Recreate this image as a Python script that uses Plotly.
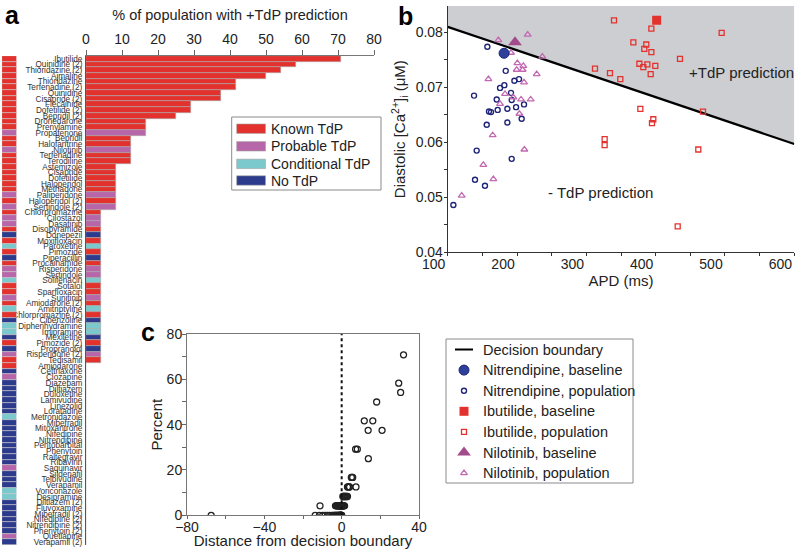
import plotly.graph_objects as go

W, H = 800, 549
FONT = "Liberation Sans, Arial, sans-serif"

# ---------------- Panel a data ----------------
drugs = ["Ibutilide", "Quinidine (2)", "Thioridazine (2)", "Ajmaline", "Thioridazine",
         "Terfenadine (2)", "Quinidine", "Cisapride (2)", "Flecainide", "Dofetilide (2)",
         "Bepridil (2)", "Dronedarone", "Prenylamine", "Propafenone", "Bepridil",
         "Halofantrine", "Nilotinib", "Terfenadine", "Terodiline", "Astemizole",
         "Cisapride", "Dofetilide", "Haloperidol", "Methadone", "Paliperidone",
         "Haloperidol (2)", "Sertindole (2)", "Chlorpromazine", "Cilostazol", "Dasatinib",
         "Disopyramide", "Donepezil", "Moxifloxacin", "Paroxetine", "Pimozide",
         "Piperacillin", "Procainamide", "Risperidone", "Sertindole", "Solifenacin",
         "Sotalol", "Sparfloxacin", "Sunitinib", "Amiodarone (2)", "Amitriptyline",
         "Chlorpromazine (2)", "Cibenzoline", "Diphenhydramine", "Imipramine", "Mexiletine",
         "Pimozide (2)", "Propranolol", "Risperidone (2)", "Tedisamil", "Amiodarone",
         "Ceftriaxone", "Clozapine", "Diazepam", "Diltiazem", "Duloxetine",
         "Lamivudine", "Linezolid", "Loratadine", "Metronidazole", "Mibefradil",
         "Mitoxantrone", "Nifedipine", "Nitrendipine", "Pentobarbital", "Phenytoin",
         "Raltegravir", "Ribavirin", "Saquinavir", "Sildenafil", "Telbivudine",
         "Verapamil", "Voriconazole", "Desipramine", "Diltiazem (2)", "Fluvoxamine",
         "Mibefradil (2)", "Nifedipine (2)", "Nitrendipine (2)", "Phenytoin (2)", "Quetiapine",
         "Verapamil (2)"]

pct_tdp = [70.8, 58.3, 54.2, 50.0, 41.7, 41.7, 37.5, 37.5, 29.2, 29.2,
           25.0, 16.7, 16.7, 16.7, 12.5, 12.5, 12.5, 12.5, 12.5, 8.3,
           8.3, 8.3, 8.3, 8.3, 8.3, 8.3, 8.3, 4.2, 4.2, 4.2,
           4.2, 4.2, 4.2, 4.2, 4.2, 4.2, 4.2, 4.2, 4.2, 4.2,
           4.2, 4.2, 4.2, 4.2, 4.2, 4.2, 4.2, 4.2, 4.2, 4.2,
           4.2, 4.2, 4.2, 4.2, 0, 0, 0, 0, 0, 0,
           0, 0, 0, 0, 0, 0, 0, 0, 0, 0,
           0, 0, 0, 0, 0, 0, 0, 0, 0, 0,
           0, 0, 0, 0, 0, 0]

K, P, C, N = "Known TdP", "Probable TdP", "Conditional TdP", "No TdP"
risk = [K, K, K, K, K, K, K, K, K, K,
        K, K, K, P, K, K, P, K, K, K,
        K, K, K, K, P, K, P, K, P, P,
        K, N, K, C, K, N, K, P, P, C,
        K, K, P, K, C, K, N, C, C, N,
        K, N, P, K, K, N, P, N, N, N,
        N, N, N, C, N, N, N, N, N, N,
        N, N, P, N, N, N, C, C, N, N,
        N, N, N, N, P, N]

risk_categories = [K, P, C, N]
risk_colors = {K: "#E3322D", P: "#B866AA", C: "#7CC9CD", N: "#2D3B8D"}

# ---------------- Panel b data ----------------
nit_pop_apd = [157.2, 183.7, 175.5, 181.7, 196.2, 202.9, 138.0, 170.7, 192.3, 191.3,
               198.6, 210.1, 172.1, 186.1, 159.6, 162.5, 156.3, 186.1, 206.7, 141.8,
               192.3, 139.4, 153.8, 108.2]
nit_pop_ca = [0.0774, 0.0730, 0.0699, 0.0704, 0.0712, 0.0715, 0.0685, 0.0678, 0.0677, 0.0690,
              0.0664, 0.0669, 0.0659, 0.0661, 0.0656, 0.0655, 0.0632, 0.0636, 0.0643, 0.0585,
              0.0570, 0.0532, 0.0521, 0.0486]
nil_pop_apd = [173.1, 215.4, 191.3, 236.5, 200.5, 209.1, 199.5, 208.1, 228.4, 158.7,
               210.1, 182.7, 194.7, 205.8, 219.7, 175.5, 203.4, 164.9, 210.6, 151.4,
               165.9, 120.2]
nil_pop_ca = [0.0786, 0.0796, 0.0763, 0.0756, 0.0744, 0.0739, 0.0732, 0.0732, 0.0724, 0.0715,
              0.0709, 0.0688, 0.0682, 0.0678, 0.0678, 0.0670, 0.0652, 0.0613, 0.0587, 0.0559,
              0.0533, 0.0503]
ibu_pop_apd = [339.9, 393.8, 495.2, 367.8, 386.5, 383.6, 393.8, 376.5, 388.0, 382.2,
               399.5, 312.5, 334.1, 392.8, 349.0, 435.1, 377.9, 468.3, 396.6, 394.7,
               326.4, 326.4, 461.5, 431.8]
ibu_pop_ca = [0.0822, 0.0807, 0.0799, 0.0782, 0.0778, 0.0770, 0.0764, 0.0743, 0.0742, 0.0737,
              0.0739, 0.0734, 0.0726, 0.0724, 0.0715, 0.0752, 0.0661, 0.0656, 0.0642, 0.0635,
              0.0606, 0.0595, 0.0587, 0.0447]
nit_base = (181.3, 0.0762)
ibu_base = (401.4, 0.0822)
nil_base = (197.1, 0.0782)
boundary_apd = [100, 600]
boundary_ca = [0.0810, 0.0597]
b_xrange = [100, 600]
b_yrange = [0.04, 0.0848]

# ---------------- Panel c data ----------------
distance = [32.0, 29.5, 30.5, 18.1, 11.7, 16.1, 13.7, 20.9, 7.2, 8.1,
            13.8, 5.0, 5.4, 5.7, 3.0, 3.4, 3.8, 7.4, 4.1,
            0.6, 1.0, 1.4, 1.8, 2.2, 2.6, 3.0, 1.2,
            -11.2, -3.2, -2.8, -2.5, -2.2, -1.9, -1.6, -1.4, -1.2, -1.0,
            -0.8, -0.6, -0.4, -0.2, 0.0, 0.2, 0.4, 0.6, 0.8, 1.0,
            1.2, 1.5, -1.7, -0.9, -0.5, 0.3, 0.7,
            -67.5, -13.7, -11.5, -9.8, -8.5, -7.3, -6.2, -5.0, -4.4, -3.9,
            -3.5, -3.1, -2.8, -2.5, -2.2, -1.9, -1.7, -1.5, -1.3, -1.1,
            -0.9, -0.8, -0.7, -0.6, -0.5, -0.4, -0.3, -0.2, -0.15, -0.1,
            -0.05, 0.0]

# colours
NAVY = "#1F2478"
NAVY_FILL = "#2E409A"
RED = "#E3322D"
PURP = "#C26AB1"
PURP_DARK = "#A34A8A"
GREY_REGION = "#CDCED2"


def px(x):
    return x / W


def py(y):
    return 1 - y / H


fig = go.Figure()

# Panel a bars
fig.add_trace(go.Bar(
    x=pct_tdp, y=drugs, orientation="h", xaxis="x", yaxis="y",
    marker=dict(color=[risk_colors[r] for r in risk], line=dict(color="#A8A8A8", width=0.6)),
    showlegend=False, hoverinfo="x+y"))
# Panel a category strip
fig.add_trace(go.Bar(
    x=[1] * len(drugs), y=drugs, orientation="h", xaxis="x2", yaxis="y",
    marker=dict(color=[risk_colors[r] for r in risk], line=dict(color="#C8C8C8", width=0.6)),
    showlegend=False, hoverinfo="y"))

# Panel b shaded +TdP region and boundary
fig.add_trace(go.Scatter(
    x=[boundary_apd[0], boundary_apd[1], b_xrange[1], b_xrange[0]],
    y=[boundary_ca[0], boundary_ca[1], b_yrange[1], b_yrange[1]],
    fill="toself", fillcolor=GREY_REGION, line=dict(width=0), mode="lines",
    xaxis="x3", yaxis="y3", showlegend=False, hoverinfo="skip"))
fig.add_trace(go.Scatter(x=boundary_apd, y=boundary_ca, mode="lines",
                         line=dict(color="black", width=2.2), xaxis="x3", yaxis="y3",
                         showlegend=False))
fig.add_trace(go.Scatter(x=nit_pop_apd, y=nit_pop_ca, mode="markers", xaxis="x3", yaxis="y3",
                         marker=dict(symbol="circle-open", size=5, color=NAVY, line=dict(width=1.4)),
                         showlegend=False))
fig.add_trace(go.Scatter(x=nil_pop_apd, y=nil_pop_ca, mode="markers", xaxis="x3", yaxis="y3",
                         marker=dict(symbol="triangle-up-open", size=6, color=PURP, line=dict(width=1.3)),
                         showlegend=False))
fig.add_trace(go.Scatter(x=ibu_pop_apd, y=ibu_pop_ca, mode="markers", xaxis="x3", yaxis="y3",
                         marker=dict(symbol="square-open", size=5, color=RED, line=dict(width=1.3)),
                         showlegend=False))
fig.add_trace(go.Scatter(x=[nit_base[0]], y=[nit_base[1]], mode="markers", xaxis="x3", yaxis="y3",
                         marker=dict(symbol="circle", size=10, color=NAVY_FILL, line=dict(color=NAVY, width=1)),
                         showlegend=False))
fig.add_trace(go.Scatter(x=[ibu_base[0]], y=[ibu_base[1]], mode="markers", xaxis="x3", yaxis="y3",
                         marker=dict(symbol="square", size=9, color=RED, line=dict(width=0)),
                         showlegend=False))
fig.add_trace(go.Scatter(x=[nil_base[0]], y=[nil_base[1]], mode="markers", xaxis="x3", yaxis="y3",
                         marker=dict(symbol="triangle-up", size=12, color=PURP_DARK, line=dict(width=0)),
                         showlegend=False))

# Panel c scatter
fig.add_trace(go.Scatter(x=distance, y=pct_tdp, mode="markers", xaxis="x4", yaxis="y4",
                         marker=dict(symbol="circle-open", size=6, color="#222", line=dict(width=1.3)),
                         showlegend=False))

# ----- legend keys (overlay axis in pixel space) -----
LEG_X = 464
leg_y = [349.5, 370.1, 390.7, 411.3, 431.9, 452.5, 473.1]
leg_labels = ["Decision boundary", "Nitrendipine, baseline", "Nitrendipine, population",
              "Ibutilide, baseline", "Ibutilide, population", "Nilotinib, baseline",
              "Nilotinib, population"]
fig.add_trace(go.Scatter(x=[LEG_X - 9, LEG_X + 9], y=[leg_y[0]] * 2, mode="lines",
                         line=dict(color="black", width=2), xaxis="x5", yaxis="y5",
                         showlegend=False, hoverinfo="skip"))
key_styles = [
    dict(symbol="circle", size=10, color=NAVY_FILL, line=dict(color=NAVY, width=1)),
    dict(symbol="circle-open", size=5, color=NAVY, line=dict(width=1.4)),
    dict(symbol="square", size=9, color=RED, line=dict(width=0)),
    dict(symbol="square-open", size=5, color=RED, line=dict(width=1.3)),
    dict(symbol="triangle-up", size=12, color=PURP_DARK, line=dict(width=0)),
    dict(symbol="triangle-up-open", size=6, color=PURP, line=dict(width=1.3)),
]
for yy, st in zip(leg_y[1:], key_styles):
    fig.add_trace(go.Scatter(x=[LEG_X], y=[yy], mode="markers", marker=st, xaxis="x5", yaxis="y5",
                             showlegend=False, hoverinfo="skip"))

shapes = []
annotations = []

# legend c box + text
shapes.append(dict(type="rect", xref="paper", yref="paper", x0=px(446), x1=px(633), y0=py(339), y1=py(483),
                   line=dict(color="#8A8A8A", width=1)))
for yy, lab in zip(leg_y, leg_labels):
    annotations.append(dict(xref="paper", yref="paper", x=px(481), y=py(yy), text=lab, showarrow=False,
                            xanchor="left", yanchor="middle", font=dict(size=14.5, color="#222")))

# legend a box + swatches + text
shapes.append(dict(type="rect", xref="paper", yref="paper", x0=px(231.7), x1=px(381), y0=py(117), y1=py(190),
                   line=dict(color="#8A8A8A", width=1)))
leg_a_y = [128.7, 146.3, 163.9, 180.5]
for yy, cat in zip(leg_a_y, risk_categories):
    shapes.append(dict(type="rect", xref="paper", yref="paper", x0=px(236.7), x1=px(265.5),
                       y0=py(yy + 4.7), y1=py(yy - 4.7), fillcolor=risk_colors[cat],
                       line=dict(color="#A0A0A0", width=0.6)))
    annotations.append(dict(xref="paper", yref="paper", x=px(268.5), y=py(yy), text=cat, showarrow=False,
                            xanchor="left", yanchor="middle", font=dict(size=14, color="#222")))

# dotted zero line in panel c
shapes.append(dict(type="line", xref="x4", yref="y4", x0=0, x1=0, y0=0, y1=80,
                   line=dict(color="#111", width=2, dash="dot")))

# panel b text
annotations.append(dict(xref="x3", yref="y3", x=524, y=0.07265, text="+TdP prediction", showarrow=False,
                        xanchor="center", yanchor="middle", font=dict(size=15, color="#222")))
annotations.append(dict(xref="x3", yref="y3", x=320, y=0.0508, text="- TdP prediction", showarrow=False,
                        xanchor="center", yanchor="middle", font=dict(size=15, color="#222")))

# panel letters
for lx, ly, t in [(12, 15, "a"), (406, 16, "b"), (148, 332, "c")]:
    annotations.append(dict(xref="paper", yref="paper", x=px(lx), y=py(ly), text=f"<b>{t}</b>",
                            xanchor="center", yanchor="middle",
                            showarrow=False, font=dict(size=25, color="black")))

tickfont = dict(size=14, color="#222")
titlefont = dict(size=15, color="#222")

fig.update_layout(
    width=W, height=H, margin=dict(l=0, r=0, t=0, b=0, autoexpand=False),
    paper_bgcolor="white", plot_bgcolor="rgba(0,0,0,0)",
    font=dict(family=FONT, color="#222"),
    bargap=0, showlegend=False,
    shapes=shapes, annotations=annotations,
    xaxis=dict(domain=[px(86), px(374)], range=[0, 80], side="top", anchor="y", automargin=False,
               tickvals=[0, 10, 20, 30, 40, 50, 60, 70, 80], ticks="outside", ticklen=5,
               tickcolor="#666", showline=True, linecolor="#777", showgrid=False, zeroline=False,
               tickfont=tickfont,
               title=dict(text="% of population with +TdP prediction", font=dict(size=14.5, color="#222"),
                          standoff=7)),
    yaxis=dict(domain=[py(545), py(56)], anchor="x", type="category", categoryorder="array",
               categoryarray=drugs, autorange="reversed", showline=True, linecolor="#555",
               tickmode="array", tickvals=drugs, ticktext=drugs, automargin=False,
               ticks="", showgrid=False, zeroline=False, tickfont=dict(size=8.2, color="#333"),
               ticklabelstandoff=1),
    xaxis2=dict(domain=[px(2), px(16.5)], range=[0, 1], anchor="y", visible=False, automargin=False),
    xaxis3=dict(domain=[px(447.7), px(794.3)], range=b_xrange, anchor="y3", automargin=False,
                tickvals=[100, 200, 300, 400, 500, 600], ticks="outside", ticklen=3,
                ticklabelshift=-14, ticklabelstandoff=-4,
                minor=dict(dtick=50, tick0=100, ticks="outside", ticklen=3, tickcolor="#333"),
                showline=True, linecolor="#333", tickcolor="#333", showgrid=False, zeroline=False,
                tickfont=tickfont, title=dict(text="APD (ms)", font=titlefont, standoff=1)),
    yaxis3=dict(domain=[py(252.3), py(6)], range=b_yrange, anchor="x3", automargin=False,
                tickvals=[0.04, 0.05, 0.06, 0.07, 0.08], ticktext=["0.04", "0.05", "0.06", "0.07", "0.08"],
                ticks="outside", ticklen=3, ticklabelstandoff=-2,
                minor=dict(dtick=0.005, tick0=0.04, ticks="outside", ticklen=3, tickcolor="#333"),
                showline=True, linecolor="#333", tickcolor="#333", showgrid=False, zeroline=False,
                tickfont=tickfont,
                title=dict(text="Diastolic [Ca<sup>2+</sup>]<sub>i</sub> (\u03bcM)", font=titlefont, standoff=6)),
    xaxis4=dict(domain=[px(187), px(419)], range=[-80, 40], anchor="y4", automargin=False,
                tickvals=[-80, -40, 0, 40], ticks="outside", ticklen=3, ticklabelstandoff=-4,
                minor=dict(dtick=20, tick0=-80, ticks="outside", ticklen=3, tickcolor="#666"),
                showline=True, mirror=True, linecolor="#777", tickcolor="#666", showgrid=False,
                zeroline=False, tickfont=tickfont,
                title=dict(text="Distance from decision boundary", font=titlefont, standoff=3)),
    yaxis4=dict(domain=[py(515.3), py(334)], range=[0, 80], anchor="x4", automargin=False,
                tickvals=[0, 20, 40, 60, 80], ticks="outside", ticklen=4, ticklabelstandoff=-3,
                minor=dict(dtick=10, tick0=0, ticks="outside", ticklen=4, tickcolor="#666"),
                showline=True, mirror=True, linecolor="#777", tickcolor="#666", showgrid=False,
                zeroline=False, tickfont=tickfont,
                title=dict(text="Percent", font=titlefont, standoff=0)),
    xaxis5=dict(domain=[0, 1], range=[0, W], anchor="y5", visible=False, fixedrange=True, automargin=False),
    yaxis5=dict(domain=[0, 1], range=[H, 0], anchor="x5", visible=False, fixedrange=True, automargin=False),
)

fig.write_html("out.html", config={"displayModeBar": False},
               post_script="document.body.style.margin='0px';")
